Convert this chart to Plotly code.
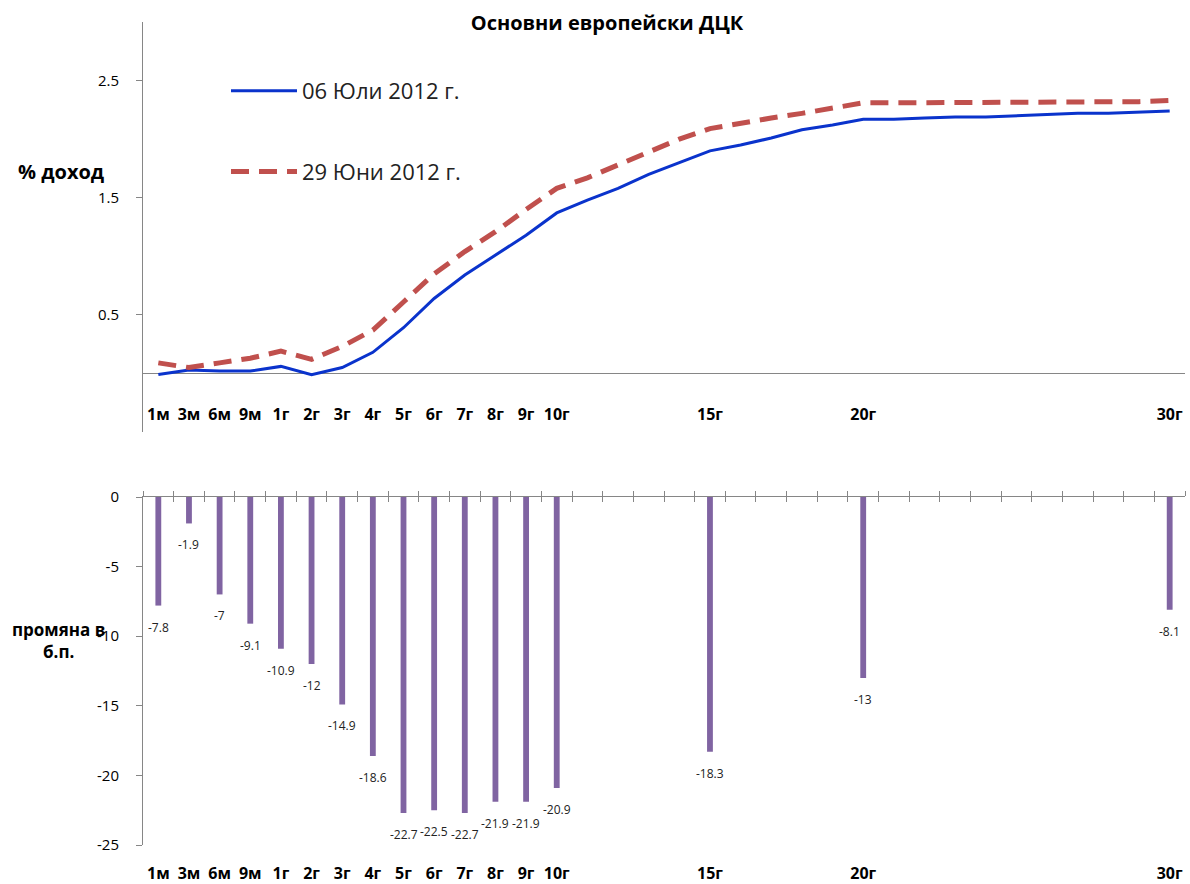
import plotly.graph_objects as go

# ---- data ----
all_categories = ["1м", "3м", "6м", "9м"] + [f"{i}г" for i in range(1, 31)]
label_categories = ["1м", "3м", "6м", "9м", "1г", "2г", "3г", "4г", "5г", "6г",
                    "7г", "8г", "9г", "10г", "15г", "20г", "30г"]

yield_jul06 = [-0.01, 0.03, 0.02, 0.02,
               0.06, -0.01, 0.05, 0.18, 0.39, 0.64, 0.84, 1.01, 1.18, 1.37,
               1.48, 1.58, 1.70, 1.80, 1.90,
               1.95, 2.01, 2.08, 2.12, 2.17,
               2.17, 2.18, 2.19, 2.19, 2.20, 2.21, 2.22, 2.22, 2.23, 2.24]
yield_jun29 = [0.09, 0.05, 0.09, 0.13,
               0.19, 0.12, 0.23, 0.37, 0.61, 0.85, 1.04, 1.21, 1.40, 1.58,
               1.67, 1.78, 1.88, 2.00, 2.09,
               2.14, 2.18, 2.22, 2.27, 2.31,
               2.31, 2.31, 2.31, 2.31, 2.31, 2.32, 2.32, 2.32, 2.32, 2.33]
change_bp = [-7.8, -1.9, -7, -9.1, -10.9, -12, -14.9, -18.6, -22.7, -22.5,
             -22.7, -21.9, -21.9, -20.9, -18.3, -13, -8.1]

series_names = ["06 Юли 2012 г.", "29 Юни 2012 г."]
title_text = "Основни европейски ДЦК"
top_ytitle = "% доход"
bottom_ytitle = "промяна в<br>б.п."

top_ticks = [-0.5, 0.5, 1.5, 2.5]
bottom_ticks = [0, -5, -10, -15, -20, -25]

# ---- layout geometry ----
W, H = 1190, 884
FONT = "Open Sans"
AXIS = "#868686"


def py(px):
    return 1 - px / H


xdom = [143 / W, 1185 / W]
ncat = len(all_categories)
bar_pos = [all_categories.index(c) for c in label_categories]

fig = go.Figure()

fig.add_trace(go.Scatter(
    x=all_categories, y=yield_jul06, name=series_names[0], mode="lines",
    line=dict(color="#0A33CC", width=3), xaxis="x", yaxis="y",
    legendgroup="a"))
fig.add_trace(go.Scatter(
    x=all_categories, y=yield_jun29, name=series_names[1], mode="lines",
    line=dict(color="#C0504D", width=5, dash="18px,10px"), xaxis="x", yaxis="y",
    legendgroup="b"))

fig.add_trace(go.Bar(
    x=label_categories, y=change_bp, marker=dict(color="#8064A2", line=dict(width=0)),
    width=0.19, showlegend=False, xaxis="x2", yaxis="y2", hoverinfo="x+y"))

# helper (invisible) traces so the tick-only overlay axes get drawn
for ax in ["x3", "x4"]:
    fig.add_trace(go.Scatter(x=bar_pos, y=change_bp, mode="none", showlegend=False,
                             hoverinfo="skip", xaxis=ax, yaxis="y2"))

# data labels under bar ends
for c, v in zip(label_categories, change_bp):
    fig.add_annotation(x=c, y=v, xref="x2", yref="y2", text=f"{v:g}",
                       showarrow=False, yanchor="top", yshift=-11,
                       font=dict(family=FONT, size=12, color="#222222"))

tick_text_bold = [f"<b>{c}</b>" for c in label_categories]
boundaries = [i - 0.5 for i in range(ncat + 1)]

fig.update_layout(
    width=W, height=H,
    margin=dict(l=0, r=0, t=0, b=0, autoexpand=False),
    paper_bgcolor="white", plot_bgcolor="white",
    font=dict(family=FONT, color="#000000"),
    title=dict(text=f"<b>{title_text}</b>", x=607 / W, xanchor="center",
               y=py(23), yanchor="middle", font=dict(family=FONT, size=20)),
    showlegend=True,
    legend=dict(x=226 / W, y=py(70), xanchor="left", yanchor="top",
                font=dict(family=FONT, size=22, color="#222222"),
                tracegroupgap=49, bgcolor="rgba(0,0,0,0)", itemwidth=66),
    xaxis=dict(domain=xdom, anchor="y", type="category",
               categoryorder="array", categoryarray=all_categories,
               range=[-0.5, ncat - 0.5], automargin=False,
               tickmode="array", tickvals=label_categories, ticktext=tick_text_bold,
               ticklabelposition="inside", ticklabelstandoff=6,
               ticks="", showline=False, showgrid=False,
               zeroline=False, tickfont=dict(family=FONT, size=16, color="#000000")),
    yaxis=dict(domain=[py(432), py(22)], anchor="x", range=[-0.5, 3.0],
               automargin=False,
               tickmode="array", tickvals=top_ticks, ticktext=[f"{v:g}" for v in top_ticks],
               ticks="outside", ticklen=6, tickcolor=AXIS, showline=True, linecolor=AXIS,
               linewidth=1, showgrid=False, zeroline=True, zerolinecolor=AXIS,
               zerolinewidth=1, ticklabelstandoff=14,
               tickfont=dict(family=FONT, size=15, color="#000000")),
    xaxis2=dict(domain=xdom, anchor="y2", type="category",
                categoryorder="array", categoryarray=all_categories,
                range=[-0.5, ncat - 0.5], automargin=False,
                tickmode="array", tickvals=label_categories, ticktext=tick_text_bold,
                ticks="", showline=False, showgrid=False, zeroline=False,
                ticklabelstandoff=17,
                tickfont=dict(family=FONT, size=16, color="#000000")),
    yaxis2=dict(domain=[py(845), py(497)], anchor="x2", range=[-25, 0],
                automargin=False,
                tickmode="array", tickvals=bottom_ticks, ticktext=[f"{v:g}" for v in bottom_ticks],
                ticks="outside", ticklen=6, tickcolor=AXIS, showline=True, linecolor=AXIS,
                linewidth=1, showgrid=False, zeroline=False, ticklabelstandoff=14,
                tickfont=dict(family=FONT, size=15, color="#000000")),
    xaxis3=dict(domain=xdom, anchor="y2", overlaying="x2", side="top",
                range=[-0.5, ncat - 0.5], tickmode="array", automargin=False,
                tickvals=boundaries, showticklabels=False, ticks="outside", ticklen=5,
                tickcolor=AXIS, showline=True, linecolor=AXIS, linewidth=1,
                showgrid=False, zeroline=False),
    xaxis4=dict(domain=xdom, anchor="y2", overlaying="x2", side="top",
                range=[-0.5, ncat - 0.5], tickmode="array", automargin=False,
                tickvals=boundaries, showticklabels=False, ticks="inside", ticklen=5,
                tickcolor=AXIS, showline=False, showgrid=False, zeroline=False),
)

fig.add_annotation(text=f"<b>{top_ytitle}</b>", xref="paper", yref="paper",
                   x=61 / W, y=py(172), xanchor="center", yanchor="middle",
                   showarrow=False,
                   font=dict(family=FONT, size=20, color="#000000"))
fig.add_annotation(text=f"<b>{bottom_ytitle}</b>", xref="paper", yref="paper",
                   x=58 / W, y=py(640), xanchor="center", yanchor="middle",
                   showarrow=False, align="center",
                   font=dict(family=FONT, size=17, color="#000000"))

fig.write_html("out.html", config={"displayModeBar": False},
               post_script="document.body.style.margin='0';")
